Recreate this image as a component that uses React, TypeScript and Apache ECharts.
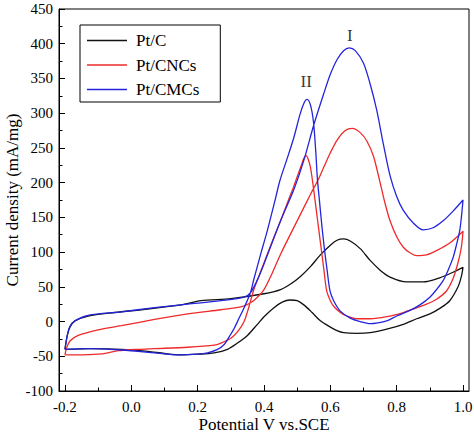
import React, { useEffect, useRef } from "react";
import * as echarts from "echarts";

const FONT = "'Liberation Serif', 'Times New Roman', serif";

const seriesNames = ["Pt/C", "Pt/CNCs", "Pt/CMCs"];
const seriesColors = ["#111111", "#ee2a2a", "#2424dd"];

const xMajorTicks = [-0.2, 0.0, 0.2, 0.4, 0.6, 0.8, 1.0];
const xMinorTicks = [-0.1, 0.1, 0.3, 0.5, 0.7, 0.9];

// Pt/C (black) anodic (forward) and cathodic (reverse) scans
const ptcForward: number[][] = [
  [-0.2, -40], [-0.193, -20], [-0.185, -8], [-0.17, 1], [-0.13, 8], [-0.05, 13], [0.05, 18],
  [0.15, 24], [0.21, 30], [0.3, 33], [0.4, 40], [0.45, 46], [0.48, 54], [0.51, 65], [0.54, 79],
  [0.57, 96], [0.6, 110], [0.62, 117], [0.64, 119], [0.66, 116], [0.69, 105], [0.72, 88],
  [0.75, 74], [0.78, 64], [0.83, 57], [0.88, 57], [0.93, 63], [0.97, 71], [1.0, 78],
];
const ptcReverse: number[][] = [
  [1.0, 78], [0.995, 65], [0.985, 50], [0.96, 30], [0.93, 19], [0.9, 11], [0.86, 4], [0.82, -4],
  [0.77, -11], [0.72, -16], [0.68, -17], [0.64, -16], [0.62, -13], [0.6, -8], [0.57, 1],
  [0.545, 13], [0.52, 24], [0.5, 30], [0.478, 31], [0.455, 28], [0.43, 20], [0.4, 7], [0.38, -4],
  [0.35, -20], [0.32, -31], [0.29, -40], [0.25, -45], [0.2, -47], [0.15, -48], [0.1, -46],
  [0.05, -43], [-0.03, -40], [-0.12, -39], [-0.2, -40],
];

// Pt/CNCs (red)
const cncForward: number[][] = [
  [-0.2, -48], [-0.195, -38], [-0.185, -28], [-0.16, -20], [-0.1, -12], [-0.03, -6], [0.07, 3],
  [0.17, 11], [0.27, 17], [0.33, 21], [0.36, 27], [0.38, 35], [0.4, 46], [0.425, 70], [0.45, 97],
  [0.5, 145], [0.54, 183], [0.564, 205], [0.58, 222], [0.6, 243], [0.62, 261], [0.645, 275],
  [0.666, 278], [0.69, 272], [0.71, 260], [0.73, 238], [0.75, 200], [0.765, 170], [0.78, 145],
  [0.8, 122], [0.82, 107], [0.84, 99], [0.86, 95], [0.89, 96], [0.92, 102], [0.96, 113], [1.0, 130],
];
const cncReverse: number[][] = [
  [1.0, 130], [0.995, 107], [0.985, 85], [0.97, 62], [0.95, 44], [0.92, 32], [0.89, 25],
  [0.85, 18], [0.82, 13], [0.77, 7], [0.72, 4], [0.68, 4], [0.65, 8], [0.63, 13], [0.61, 22],
  [0.6, 30], [0.589, 44], [0.58, 77], [0.57, 114], [0.562, 144], [0.554, 174], [0.547, 200],
  [0.54, 222], [0.533, 234], [0.527, 239], [0.52, 235], [0.514, 227], [0.505, 215], [0.49, 195],
  [0.473, 174], [0.45, 145], [0.418, 107], [0.39, 72], [0.368, 44], [0.355, 22], [0.34, 0],
  [0.32, -15], [0.3, -24], [0.27, -31], [0.25, -34], [0.17, -37], [0.07, -39], [0.02, -40],
  [-0.04, -42], [-0.07, -45], [-0.1, -47], [-0.15, -48], [-0.2, -48],
];

// Pt/CMCs (blue)
const cmcForward: number[][] = [
  [-0.2, -40], [-0.193, -20], [-0.185, -7], [-0.17, 1], [-0.13, 9], [-0.03, 14], [0.07, 20],
  [0.17, 25], [0.27, 30], [0.34, 35], [0.36, 42], [0.38, 60], [0.4, 83], [0.45, 145], [0.49, 190],
  [0.52, 232], [0.55, 283], [0.58, 328], [0.6, 356], [0.62, 377], [0.64, 390], [0.657, 394],
  [0.675, 390], [0.7, 372], [0.72, 342], [0.74, 304], [0.76, 255], [0.78, 210], [0.8, 180],
  [0.82, 160], [0.85, 142], [0.88, 132], [0.91, 135], [0.94, 145], [0.97, 159], [1.0, 175],
];
const cmcReverse: number[][] = [
  [1.0, 175], [0.995, 150], [0.99, 131], [0.98, 110], [0.97, 92], [0.955, 74], [0.94, 59],
  [0.92, 46], [0.9, 35], [0.87, 24], [0.84, 16], [0.8, 8], [0.77, 1], [0.72, -3], [0.69, 0],
  [0.66, 5], [0.63, 15], [0.61, 30], [0.599, 44], [0.59, 75], [0.582, 105], [0.574, 140],
  [0.567, 175], [0.561, 205], [0.556, 245], [0.549, 288], [0.54, 312], [0.53, 320], [0.522, 316],
  [0.509, 299], [0.49, 265], [0.468, 232], [0.448, 203], [0.433, 174], [0.41, 131], [0.39, 97],
  [0.37, 62], [0.358, 40], [0.34, 20], [0.325, 5], [0.31, -10], [0.295, -22], [0.28, -33],
  [0.26, -40], [0.23, -45], [0.2, -47], [0.14, -48], [0.07, -45], [-0.03, -41], [-0.13, -39],
  [-0.2, -40],
];

const peakLabels: (number | string)[][] = [
  [0.659, 412, "I"],
  [0.527, 345, "II"],
];

export default function App() {
  const ref = useRef<HTMLDivElement>(null);
  useEffect(() => {
    if (!ref.current) return;
    document.body.style.margin = "0";
    const chart = echarts.init(ref.current, undefined, { renderer: "svg" });
    const loops = [
      [...ptcForward, ...ptcReverse],
      [...cncForward, ...cncReverse],
      [...cmcForward, ...cmcReverse],
    ];
    const lineSeries = loops.map((d, i) => ({
      name: seriesNames[i],
      type: "line",
      data: d,
      xAxisIndex: 0,
      yAxisIndex: 0,
      symbol: "none",
      showSymbol: false,
      smooth: 0.3,
      lineStyle: { color: seriesColors[i], width: 1.3 },
      itemStyle: { color: seriesColors[i] },
      z: 3,
    }));
    const tickFont = { fontFamily: FONT, fontSize: 15, color: "#000" };
    chart.setOption({
      animation: false,
      grid: {
        left: 59,
        right: 5,
        top: 9,
        bottom: 43,
        containLabel: false,
        outerBoundsMode: "none",
        show: true,
        borderColor: "#000",
        borderWidth: 1,
        backgroundColor: "transparent",
      },
      legend: {
        data: seriesNames,
        orient: "vertical",
        left: 80,
        top: 25,
        icon: "rect",
        itemWidth: 40,
        itemHeight: 1.3,
        itemGap: 7.5,
        padding: [7, 21, 4, 7],
        borderColor: "#000",
        borderWidth: 1,
        textStyle: {
          fontFamily: FONT,
          fontSize: 17,
          lineHeight: 17,
          color: "#000",
          padding: [0, 0, 0, 4],
        },
      },
      xAxis: [
        {
          type: "value",
          min: -0.218,
          max: 1.018,
          position: "bottom",
          name: "Potential V vs.SCE",
          nameLocation: "middle",
          nameGap: 25,
          nameMoveOverlap: false,
          nameTextStyle: { fontFamily: FONT, fontSize: 17, color: "#000" },
          axisLine: { show: true, onZero: false, lineStyle: { color: "#000", width: 1 } },
          axisTick: {
            show: true,
            inside: true,
            length: 6,
            customValues: xMajorTicks,
            lineStyle: { color: "#000" },
          },
          axisLabel: {
            ...tickFont,
            margin: 8,
            customValues: xMajorTicks,
            formatter: (v: number) => v.toFixed(1),
          },
          splitLine: { show: false },
        },
        {
          type: "value",
          min: -0.218,
          max: 1.018,
          position: "bottom",
          axisLine: { show: false, onZero: false },
          axisTick: {
            show: true,
            inside: true,
            length: 3.5,
            customValues: xMinorTicks,
            lineStyle: { color: "#000" },
          },
          axisLabel: { show: false },
          splitLine: { show: false },
        },
      ],
      yAxis: {
        type: "value",
        min: -100,
        max: 450,
        interval: 50,
        name: "Current density (mA/mg)",
        nameLocation: "middle",
        nameGap: 38,
        nameRotate: 90,
        nameMoveOverlap: false,
        nameTextStyle: { fontFamily: FONT, fontSize: 17, color: "#000" },
        axisLine: { show: true, onZero: false, lineStyle: { color: "#000", width: 1 } },
        axisTick: { show: true, inside: true, length: 6, lineStyle: { color: "#000" } },
        minorTick: { show: true, splitNumber: 2, length: 3.5, lineStyle: { color: "#000" } },
        axisLabel: { ...tickFont, margin: 6 },
        splitLine: { show: false },
      },
      series: [
        ...lineSeries,
        {
          name: "peaks",
          type: "scatter",
          data: peakLabels,
          symbolSize: 0,
          silent: true,
          label: {
            show: true,
            position: "inside",
            formatter: (p: any) => p.value[2],
            fontFamily: FONT,
            fontSize: 17,
            color: "#000",
          },
          z: 5,
        },
      ],
    });
    return () => chart.dispose();
  }, []);
  return <div ref={ref} style={{ width: 474, height: 434 }} />;
}
